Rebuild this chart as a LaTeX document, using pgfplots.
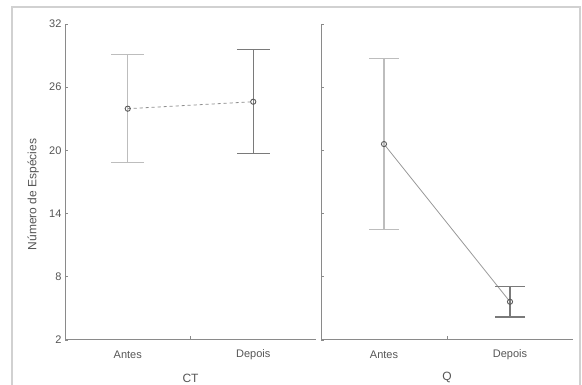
\documentclass[border=0pt]{standalone}
\usepackage{pgfplots}
\pgfplotsset{compat=1.18}
\usepackage{fontspec}
\setmainfont{Liberation Sans}
\definecolor{axgray}{HTML}{8A8A8A}
\definecolor{lightbar}{HTML}{BDBDBD}
\definecolor{darkbar}{HTML}{7A7A7A}
\definecolor{txt}{HTML}{555555}
\begin{document}
\begin{tikzpicture}
\path[use as bounding box] (0pt,0pt) rectangle (582pt,385pt);
\draw[line width=2pt, color=black!18] (12pt,0pt) -- (12pt,377.5pt) -- (580pt,377.5pt) -- (580pt,0pt);
\pgfplotsset{
  panel/.style={
    scale only axis, height=316pt,
    axis lines*=left,
    axis line style={axgray, line width=1pt},
    xmin=-0.5, xmax=1.5, ymin=2, ymax=32,
    xtick={0,1}, xticklabels={Antes,Depois},
    major x tick style={draw=none},
    minor xtick={0.5}, minor tick length=4pt,
    minor x tick style={axgray, line width=0.8pt},
    ytick={2,8,14,20,26,32},
    tick align=inside,
    major tick length=3pt,
    major y tick style={axgray, line width=0.8pt},
    /pgf/number format/assume math mode=true,
    xticklabel style={anchor=center, yshift=-15pt},
    every tick label/.append style={font=\fontsize{11}{13}\selectfont, text=txt},
    label style={font=\fontsize{12}{14}\selectfont, text=txt},
    xlabel style={at={(axis description cs:0.5,-0.12)}, anchor=center},
    clip=false,
  }
}
% Left panel CT
\begin{axis}[panel, width=251pt, at={(65pt,45pt)}, anchor=south west,
  xlabel={CT}, ylabel={Número de Espécies},
  ylabel style={at={(axis description cs:-0.127,0.46)}, anchor=center}]
\addplot[color=black!45, dashed, line width=0.8pt] coordinates {(0,23.96) (1,24.62)};
\addplot[draw=none, mark=none, error bars/.cd, y dir=both, y explicit,
  error bar style={color=lightbar, line width=1.1pt}, error mark options={color=lightbar, line width=1.1pt, mark size=16.5pt, rotate=90}]
  coordinates {(0,23.96) +- (0,5.13)};
\addplot[draw=none, mark=none, error bars/.cd, y dir=both, y explicit,
  error bar style={color=darkbar, line width=1.1pt}, error mark options={color=darkbar, line width=1.1pt, mark size=16.5pt, rotate=90}]
  coordinates {(1,24.62) +- (0,4.95)};
\addplot[only marks, mark=o, mark size=2.6pt, mark options={draw=black!65, fill=white, line width=0.9pt}]
  coordinates {(0,23.96) (1,24.62)};
\end{axis}
% Right panel Q
\begin{axis}[panel, width=252pt, at={(321pt,45pt)}, anchor=south west,
  xlabel={Q}, yticklabels={}]
\addplot[color=black!40, line width=0.8pt] coordinates {(0,20.6) (1,5.63)};
\addplot[draw=none, mark=none, error bars/.cd, y dir=both, y explicit,
  error bar style={color=lightbar, line width=1.1pt}, error mark options={color=lightbar, line width=1.1pt, mark size=15pt, rotate=90}]
  coordinates {(0,20.6) +- (0,8.15)};
\addplot[draw=none, mark=none, error bars/.cd, y dir=both, y explicit,
  error bar style={color=darkbar, line width=1.1pt}, error mark options={color=darkbar, line width=1.1pt, mark size=15pt, rotate=90}]
  coordinates {(1,5.63) +- (0,1.45)};
\addplot[only marks, mark=o, mark size=2.6pt, mark options={draw=black!65, fill=white, line width=0.9pt}]
  coordinates {(0,20.6) (1,5.63)};
\end{axis}
\end{tikzpicture}
\end{document}
